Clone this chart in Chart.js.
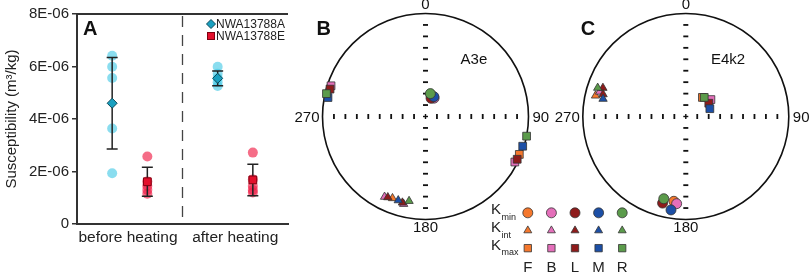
<!DOCTYPE html>
<html>
<head>
<meta charset="utf-8">
<script src="https://cdn.jsdelivr.net/npm/chart.js@4.4.0/dist/chart.umd.min.js"></script>
<style>
  html, body { margin: 0; padding: 0; background: #fff; }
  body { width: 809px; height: 277px; position: relative; overflow: hidden; }
  canvas { position: absolute; }
</style>
</head>
<body>
<canvas id="chartA" width="300" height="277" style="left:0;top:0"></canvas>
<canvas id="chartB" width="280" height="277" style="left:280px;top:0"></canvas>
<canvas id="chartC" width="269" height="277" style="left:540px;top:0"></canvas>
<canvas id="legendK" width="160" height="79" style="left:480px;top:198px"></canvas>
<script>
// ---- panel A: susceptibility before / after heating ----
const groupNames = ["before heating", "after heating"];
const groupTickX = [1.45, 4.5];
const sampleNames = ["NWA13788A", "NWA13788E"];
const slotA = [1, 4];          // x slots of sample A in each group
const slotE = [2, 5];          // x slots of sample E
const separatorX = 3;

const beforeA = [6.41e-6, 5.99e-6, 5.56e-6, 3.64e-6, 1.93e-6];
const afterA = [5.99e-6, 5.72e-6, 5.55e-6, 5.40e-6, 5.26e-6];
const beforeE = [2.57e-6, 1.62e-6, 1.45e-6, 1.30e-6, 1.15e-6];
const afterE = [2.72e-6, 1.70e-6, 1.45e-6, 1.30e-6, 1.20e-6];
const meanA = [4.60e-6, 5.55e-6];
const sdA = [1.74e-6, 0.28e-6];
const meanE = [1.61e-6, 1.68e-6];
const sdE = [0.55e-6, 0.60e-6];

const yTickValues = [0, 2e-6, 4e-6, 6e-6, 8e-6];
const yTickLabels = ["0", "2E-06", "4E-06", "6E-06", "8E-06"];

// ---- panels B and C: AMS principal axes (trend, plunge in degrees) ----
const fractions = ["F", "B", "L", "M", "R"];
const fractionColors = ["#f5782d", "#e46fba", "#8e1b1b", "#1c4fa6", "#5b9b4b"];
const kTypes = ["Kmin", "Kint", "Kmax"];
const kStyles = ["circle", "triangle", "rect"];
const kRadius = [5, 4.8, 5.5];

// B: specimen A3e
const bKminFrac = ["F", "B", "L", "M", "R"];
const bKminTrend = [15, 25, 17, 23, 12];
const bKminPlunge = [73, 74, 75, 73, 71.5];
const bKintFrac = ["B", "L", "F", "M", "L", "B", "R"];
const bKintTrend = [207, 205, 202, 198, 195, 194, 191];
const bKintPlunge = [13.5, 14.5, 15.5, 15.5, 14.5, 13.5, 17.5];
const bKmaxFrac = ["B", "L", "M", "R", "R", "M", "F", "L", "B"];
const bKmaxTrend = [288, 286, 281, 283, 101, 107, 112, 115, 117];
const bKmaxPlunge = [4, 4, 4, 1.5, 0, 1.5, 2, 2, 3];

// C: specimen E4k2
const cKminFrac = ["F", "B", "L", "M", "R"];
const cKminTrend = [188, 186, 195, 189, 195];
const cKminPlunge = [18, 16, 14, 9, 18.5];
const cKintFrac = ["F", "B", "L", "L", "M", "R"];
const cKintTrend = [283, 286, 289, 285, 282, 288];
const cKintPlunge = [11, 14, 16, 18, 19, 11];
const cKmaxFrac = ["F", "B", "L", "M", "R"];
const cKmaxTrend = [41, 56, 60, 72, 44];
const cKmaxPlunge = [70, 66, 69, 70, 69];

Chart.defaults.font.family = "'Liberation Sans', Arial, sans-serif";
Chart.defaults.color = "#222";
Chart.defaults.animation = false;

const FONT = "'Liberation Sans', Arial, sans-serif";

function pts(xs, ys) {
  return ys.map((v, i) => ({ x: xs[i], y: v }));
}
function repeat(x, n) {
  return Array(n).fill(x);
}

// frame, separator, error bars, legend of panel A
const panelAExtras = {
  id: "panelAExtras",
  beforeDatasetsDraw(chart) {
    const { ctx, chartArea: a, scales: { x } } = chart;
    ctx.save();
    ctx.strokeStyle = "#333";
    ctx.lineWidth = 2;
    ctx.beginPath();
    ctx.moveTo(a.left - 1, a.top);
    ctx.lineTo(a.right, a.top);
    ctx.stroke();
    const sx = x.getPixelForValue(separatorX);
    ctx.strokeStyle = "#444";
    ctx.lineWidth = 1.3;
    ctx.setLineDash([11, 8]);
    ctx.beginPath();
    ctx.moveTo(sx, a.top + 2);
    ctx.lineTo(sx, a.bottom);
    ctx.stroke();
    ctx.restore();
  },
  afterDatasetDraw(chart, args) {
    if (args.index !== 2) return;
    const { ctx, scales: { x, y } } = chart;
    ctx.save();
    ctx.strokeStyle = "#222";
    ctx.lineWidth = 1.5;
    const bars = [[slotA, meanA, sdA], [slotE, meanE, sdE]];
    bars.forEach(([slots, means, sds]) => {
      means.forEach((m, i) => {
        const px = x.getPixelForValue(slots[i]);
        const hi = y.getPixelForValue(m + sds[i]);
        const lo = y.getPixelForValue(m - sds[i]);
        ctx.beginPath();
        ctx.moveTo(px, hi); ctx.lineTo(px, lo);
        ctx.moveTo(px - 5.5, hi); ctx.lineTo(px + 5.5, hi);
        ctx.moveTo(px - 5.5, lo); ctx.lineTo(px + 5.5, lo);
        ctx.stroke();
      });
    });
    ctx.restore();
  },
  afterDraw(chart) {
    const { ctx, chartArea: a } = chart;
    ctx.save();
    ctx.fillStyle = "#111";
    ctx.font = "bold 20px " + FONT;
    ctx.textBaseline = "alphabetic";
    ctx.fillText("A", a.left + 6, a.top + 21);

    // legend
    const lx = a.right - 77;
    ctx.lineWidth = 1;
    ctx.fillStyle = "#1aa0c0";
    ctx.strokeStyle = "#0b4a5a";
    ctx.beginPath();
    ctx.moveTo(lx, a.top + 5.5); ctx.lineTo(lx + 4.5, a.top + 10);
    ctx.lineTo(lx, a.top + 14.5); ctx.lineTo(lx - 4.5, a.top + 10);
    ctx.closePath(); ctx.fill(); ctx.stroke();
    ctx.fillStyle = "#e3102c";
    ctx.strokeStyle = "#800010";
    ctx.fillRect(lx - 3.5, a.top + 18.5, 7, 7);
    ctx.strokeRect(lx - 3.5, a.top + 18.5, 7, 7);
    ctx.fillStyle = "#222";
    ctx.font = "12px " + FONT;
    ctx.textBaseline = "middle";
    ctx.fillText(sampleNames[0], lx + 5, a.top + 10.5);
    ctx.fillText(sampleNames[1], lx + 5, a.top + 22.5);
    ctx.restore();
  }
};

new Chart(document.getElementById("chartA"), {
  type: "scatter",
  data: {
    datasets: [
      {
        label: sampleNames[0] + " mean",
        data: pts(slotA, meanA),
        pointStyle: "rectRot",
        pointRadius: 5,
        backgroundColor: "#1aa0c0",
        borderColor: "#0b4a5a",
        borderWidth: 1,
        clip: false,
      },
      {
        label: sampleNames[1] + " mean",
        data: pts(slotE, meanE),
        pointStyle: "rect",
        pointRadius: 5.5,
        backgroundColor: "#e3102c",
        borderColor: "#800010",
        borderWidth: 1,
        clip: false,
      },
      {
        label: sampleNames[0],
        data: pts(repeat(slotA[0], beforeA.length), beforeA).concat(pts(repeat(slotA[1], afterA.length), afterA)),
        pointRadius: 5,
        backgroundColor: "rgba(60, 198, 228, 0.6)",
        borderWidth: 0,
        clip: false,
      },
      {
        label: sampleNames[1],
        data: pts(repeat(slotE[0], beforeE.length), beforeE).concat(pts(repeat(slotE[1], afterE.length), afterE)),
        pointRadius: 5,
        backgroundColor: "rgba(240, 30, 70, 0.65)",
        borderWidth: 0,
        clip: false,
      },
    ],
  },
  options: {
    responsive: false,
    devicePixelRatio: 1,
    layout: { padding: { left: 0, top: 14, right: 12, bottom: 0 } },
    plugins: { legend: { display: false }, tooltip: { enabled: false } },
    scales: {
      x: {
        type: "linear",
        min: 0,
        max: 6,
        grid: { display: false, drawTicks: false },
        border: { display: true, color: "#333", width: 2 },
        afterBuildTicks: (s) => { s.ticks = groupTickX.map((v) => ({ value: v })); },
        afterFit: (s) => { s.height = 53; },
        ticks: {
          font: { size: 15.5 },
          color: "#222",
          padding: 4,
          callback: (v, i) => groupNames[i],
        },
      },
      y: {
        min: 0,
        max: 8e-6,
        grid: { drawOnChartArea: false, tickLength: 5, color: "#333", lineWidth: 1.5 },
        border: { display: true, color: "#333", width: 2 },
        afterBuildTicks: (s) => { s.ticks = yTickValues.map((v) => ({ value: v })); },
        afterFit: (s) => { s.width = 77; },
        ticks: {
          font: { size: 15 },
          color: "#222",
          padding: 3,
          callback: (v, i) => yTickLabels[i],
        },
        title: {
          display: true,
          text: "Susceptibility (m³/kg)",
          font: { size: 15 },
          color: "#222",
          padding: { top: 3, bottom: 0 },
        },
      },
    },
  },
  plugins: [panelAExtras],
});

// ---- stereonets ----
function project(trend, plunge) {
  // lower-hemisphere equal-area projection, north up
  const r = Math.SQRT2 * Math.sin(((90 - plunge) / 2) * Math.PI / 180);
  const t = trend * Math.PI / 180;
  return { x: r * Math.sin(t), y: r * Math.cos(t) };
}

function stereoDatasets(sets) {
  const out = [];
  fractions.forEach((f, i) => {
    sets.forEach(([fr, tr, pl], k) => {
      const data = [];
      fr.forEach((name, j) => { if (name === f) data.push(project(tr[j], pl[j])); });
      if (!data.length) return;
      out.push({
        label: f + " " + kTypes[k],
        data: data,
        pointStyle: kStyles[k],
        pointRadius: kRadius[k],
        backgroundColor: fractionColors[i],
        borderColor: "#333",
        borderWidth: 0.8,
        order: fractions.length - i,
        clip: false,
      });
    });
  });
  return out;
}

const stereonetFrame = {
  id: "stereonetFrame",
  beforeDatasetsDraw(chart, args, opts) {
    const { ctx, scales: { x, y } } = chart;
    const cx = x.getPixelForValue(0);
    const cy = y.getPixelForValue(0);
    const r = x.getPixelForValue(1) - cx;
    ctx.save();
    ctx.strokeStyle = "#111";
    ctx.lineWidth = 1.6;
    ctx.beginPath();
    ctx.arc(cx, cy, r, 0, Math.PI * 2);
    ctx.stroke();

    ctx.fillStyle = "#111";
    for (let k = 1; k <= 8; k++) {
      const d = (k * r) / 9;
      [-1, 1].forEach((s) => {
        ctx.fillRect(cx + s * d - 0.9, cy - 2.5, 1.8, 5);
        ctx.fillRect(cx - 2.5, cy + s * d - 0.9, 5, 1.8);
      });
    }
    ctx.fillRect(cx - 2.5, cy - 0.7, 5, 1.4);
    ctx.fillRect(cx - 0.7, cy - 2.5, 1.4, 5);

    ctx.font = "15px " + FONT;
    ctx.textAlign = "center";
    ctx.textBaseline = "bottom";
    ctx.fillText("0", cx, cy - r - 1);
    ctx.textBaseline = "top";
    ctx.fillText("180", cx, cy + r + 1);
    ctx.textBaseline = "middle";
    ctx.textAlign = "right";
    ctx.fillText("270", cx - r - 3, cy + 1);
    ctx.textAlign = "left";
    ctx.fillText("90", cx + r + 4, cy + 1);

    ctx.textAlign = "center";
    ctx.fillText(opts.name, cx + opts.nameDx * r, cy - 0.55 * r);

    ctx.font = "bold 20px " + FONT;
    ctx.textAlign = "left";
    ctx.textBaseline = "alphabetic";
    ctx.fillText(opts.letter, cx - r + opts.letterDx, cy - 0.79 * r);
    ctx.restore();
  },
};

function stereoOptions(padding, letter, name, nameDx, letterDx) {
  return {
    responsive: false,
    devicePixelRatio: 1,
    layout: { padding: padding },
    plugins: {
      legend: { display: false },
      tooltip: { enabled: false },
      stereonetFrame: { letter: letter, name: name, nameDx: nameDx, letterDx: letterDx },
    },
    scales: {
      x: { type: "linear", min: -1, max: 1, display: false },
      y: { type: "linear", min: -1, max: 1, display: false },
    },
  };
}

new Chart(document.getElementById("chartB"), {
  type: "scatter",
  data: {
    datasets: stereoDatasets([
      [bKminFrac, bKminTrend, bKminPlunge],
      [bKintFrac, bKintTrend, bKintPlunge],
      [bKmaxFrac, bKmaxTrend, bKmaxPlunge],
    ]),
  },
  options: stereoOptions({ left: 42.5, right: 31.5, top: 13.5, bottom: 57.5 }, "B", "A3e", 0.47, -6),
  plugins: [stereonetFrame],
});

new Chart(document.getElementById("chartC"), {
  type: "scatter",
  data: {
    datasets: stereoDatasets([
      [cKminFrac, cKminTrend, cKminPlunge],
      [cKintFrac, cKintTrend, cKintPlunge],
      [cKmaxFrac, cKmaxTrend, cKmaxPlunge],
    ]),
  },
  options: stereoOptions({ left: 42.8, right: 20.2, top: 13.5, bottom: 57.5 }, "C", "E4k2", 0.41, -2),
  plugins: [stereonetFrame],
});

// ---- shared symbol key ----
const kLabels = {
  id: "kLabels",
  afterDraw(chart) {
    const { ctx, scales: { y } } = chart;
    ctx.save();
    ctx.fillStyle = "#222";
    ctx.textBaseline = "alphabetic";
    ["min", "int", "max"].forEach((sub, i) => {
      const py = y.getPixelForValue(i);
      ctx.font = "15px " + FONT;
      ctx.fillText("K", 11, py + 1.5);
      const w = ctx.measureText("K").width;
      ctx.font = "9px " + FONT;
      ctx.fillText(sub, 11 + w + 0.5, py + 7);
    });
    ctx.restore();
  },
};

new Chart(document.getElementById("legendK"), {
  type: "scatter",
  data: {
    datasets: fractions.map((f, i) => ({
      label: f,
      data: kTypes.map((k) => ({ x: f, y: k })),
      pointStyle: kStyles,
      pointRadius: [5, 4.6, 5.2],
      backgroundColor: fractionColors[i],
      borderColor: "#333",
      borderWidth: 0.8,
      clip: false,
    })),
  },
  options: {
    responsive: false,
    devicePixelRatio: 1,
    layout: { padding: { left: 36, right: 5, top: 5, bottom: 0 } },
    plugins: { legend: { display: false }, tooltip: { enabled: false } },
    scales: {
      x: {
        type: "category",
        labels: fractions,
        offset: true,
        grid: { display: false, drawTicks: false },
        border: { display: false },
        afterFit: (s) => { s.height = 20; },
        ticks: { font: { size: 15 }, color: "#222", padding: 2 },
      },
      y: {
        type: "category",
        labels: kTypes,
        offset: true,
        display: false,
      },
    },
  },
  plugins: [kLabels],
});
</script>
</body>
</html>
